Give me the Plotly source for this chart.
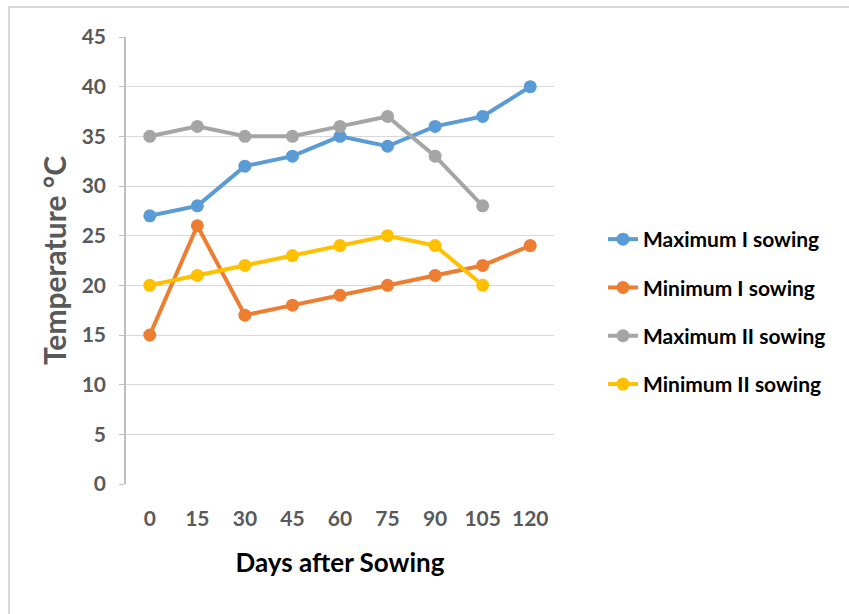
import plotly.graph_objects as go

days = ["0", "15", "30", "45", "60", "75", "90", "105", "120"]
max_i = [27, 28, 32, 33, 35, 34, 36, 37, 40]
min_i = [15, 26, 17, 18, 19, 20, 21, 22, 24]
max_ii = [35, 36, 35, 35, 36, 37, 33, 28]
min_ii = [20, 21, 22, 23, 24, 25, 24, 20]

series = [
    ("Maximum I sowing", max_i, "#5B9BD5"),
    ("Minimum I sowing", min_i, "#ED7D31"),
    ("Maximum II sowing", max_ii, "#A5A5A5"),
    ("Minimum II sowing", min_ii, "#FFC000"),
]

fig = go.Figure()
for i, (name, vals, col) in enumerate(series):
    fig.add_trace(go.Scatter(
        x=days[:len(vals)], y=vals, name=f"<b>{name}</b>", mode="lines+markers",
        line=dict(color=col, width=4), marker=dict(color=col, size=13),
        legendgroup=f"g{i}",
    ))

W, H = 849, 614
L, R, T, B = 126, 295, 37, 130
pw, ph = W - L - R, H - T - B

tickfont = dict(size=21, color="#595959", family="Lato", weight="bold")

fig.update_layout(
    width=W, height=H,
    margin=dict(l=L, r=R, t=T, b=B),
    paper_bgcolor="white", plot_bgcolor="white",
    font=dict(family="Lato", color="#595959"),
    xaxis=dict(
        type="category", range=[-0.5, 8.5], showgrid=False, showline=False,
        ticks="", tickfont=tickfont,
        ticklabelstandoff=20,
        title=dict(text="<b>Days after Sowing</b>", font=dict(size=26, color="#000000", family="Lato"), standoff=24),
    ),
    yaxis=dict(
        range=[0, 45], dtick=5, showgrid=True, gridcolor="#D9D9D9", gridwidth=1,
        showline=True, linecolor="#BFBFBF", linewidth=1.5,
        ticks="outside", ticklen=5, tickcolor="#BFBFBF",
        tickfont=tickfont, ticklabelstandoff=9,
        zeroline=False,
        title=dict(text="<b>Temperature °C</b>", font=dict(size=30, color="#595959", family="Lato"), standoff=6),
    ),
    legend=dict(
        x=(603 - L) / pw, y=(614 - B - 219) / ph, xanchor="left", yanchor="top",
        font=dict(size=21, color="#000000", family="Lato"),
        tracegroupgap=18, bgcolor="rgba(0,0,0,0)",
    ),
    showlegend=True,
)

fig.add_shape(
    type="rect", xref="paper", yref="paper",
    x0=(9 - L) / pw, x1=(W + 20 - L) / pw,
    y0=(H - B - (H + 20)) / ph, y1=(H - B - 7) / ph,
    line=dict(color="#D9D9D9", width=2), fillcolor="rgba(0,0,0,0)", layer="below",
)

fig.write_html("out.html")
